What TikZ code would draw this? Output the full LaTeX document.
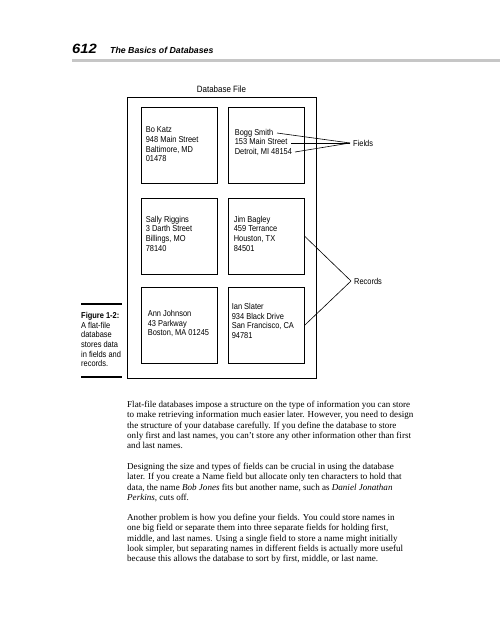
\documentclass[tikz,border=0pt]{standalone}
\usepackage{fontspec}
\setmainfont{Liberation Serif}
\newfontfamily\narrowsf[FakeStretch=0.87]{Liberation Sans}
\newfontfamily\headsf{Liberation Sans}
\newfontfamily\headnum[FakeStretch=1.1]{Liberation Sans}
\usetikzlibrary{calc, positioning}

\begin{document}
\begin{tikzpicture}[x=1bp, y=-1bp,
        recbox/.style={draw, line width=0.8bp, minimum width=76bp, minimum height=76bp, inner sep=0},
        rectext/.style={anchor=north west, inner sep=0, align=left, font=\narrowsf\fontsize{8.6}{9.7}\selectfont},
        lbl/.style={anchor=west, inner xsep=3bp, inner ysep=0, font=\narrowsf\fontsize{8.6}{9.7}\selectfont},
        bodytext/.style={anchor=north west, inner sep=0, align=left, font=\fontsize{9.1}{10.35}\selectfont},
        capline/.style={line width=1.6bp},
        connector/.style={line width=0.6bp}
    ]
    \useasboundingbox[fill=white] (0,0) rectangle (500,627);

    \node[anchor=base west, inner sep=0, font=\headnum\bfseries\itshape\fontsize{13.5}{13.5}\selectfont] (pagenum) at (72,54) {612};
    \node[anchor=base west, inner sep=0, font=\headsf\bfseries\itshape\fontsize{8.8}{8.8}\selectfont] (runhead) at (110,54) {The Basics of Databases};
    \fill[gray!45] (72,59) rectangle (500,62);

    \node[draw, line width=0.8bp, minimum width=189bp, minimum height=281bp, inner sep=0] (dbfile) at (221.5,237.5) {};
    \node[above=4bp of dbfile, inner sep=0, font=\narrowsf\fontsize{9.2}{9.2}\selectfont] (dbtitle) {Database File};

    \node[recbox] (rec1) at (179,145) {};
    \node[recbox] (rec2) at (266,145) {};
    \node[recbox] (rec3) at (179,236) {};
    \node[recbox] (rec4) at (266,236) {};
    \node[recbox] (rec5) at (179,325.5) {};
    \node[recbox] (rec6) at (266,325.5) {};

    \node[rectext] (txt1) at ($(rec1.north west)+(5,20)$) {Bo Katz\\948 Main Street\\Baltimore, MD\\01478};
    \node[rectext] (txt2) at ($(rec2.north west)+(7,22)$) {Bogg Smith\\153 Main Street\\Detroit, MI 48154};
    \node[rectext] (txt3) at ($(rec3.north west)+(5,18)$) {Sally Riggins\\3 Darth Street\\Billings, MO\\78140};
    \node[rectext] (txt4) at ($(rec4.north west)+(6,18)$) {Jim Bagley\\459 Terrance\\Houston, TX\\84501};
    \node[rectext] (txt5) at ($(rec5.north west)+(7,23)$) {Ann Johnson\\43 Parkway\\Boston, MA 01245};
    \node[rectext] (txt6) at ($(rec6.north west)+(4,16)$) {Ian Slater\\934 Black Drive\\San Francisco, CA\\94781};

    \coordinate (fname) at (277,133);
    \coordinate (fstreet) at (291,143);
    \coordinate (fcity) at (295,152);
    \node[lbl] (fields) at (350,143) {Fields};
    \draw[connector] (fname) -- (fields.west);
    \draw[connector] (fstreet) -- (fields.west);
    \draw[connector] (fcity) -- (fields.west);

    \node[lbl] (records) at (351,281) {Records};
    \draw[connector] (rec4.east) -- (records.west);
    \draw[connector] (rec6.east) -- (records.west);

    \draw[capline] (81,304) -- (122,304);
    \draw[capline] (81,377) -- (122,377);
    \node[rectext] (caption) at (81,312) {\textbf{Figure 1-2:}\\A flat-file\\database\\stores data\\in fields and\\records.};

    \node[bodytext] (para1) at (127,401) {Flat-file databases impose a structure on the type of information you can store\\to make retrieving information much easier later. However, you need to design\\the structure of your database carefully. If you define the database to store\\only first and last names, you can't store any other information other than first\\and last names.};
    \node[bodytext] (para2) at (127,463) {Designing the size and types of fields can be crucial in using the database\\later. If you create a Name field but allocate only ten characters to hold that\\data, the name \textit{Bob Jones} fits but another name, such as \textit{Daniel Jonathan}\\\textit{Perkins,} cuts off.};
    \node[bodytext] (para3) at (127,514) {Another problem is how you define your fields. You could store names in\\one big field or separate them into three separate fields for holding first,\\middle, and last names. Using a single field to store a name might initially\\look simpler, but separating names in different fields is actually more useful\\because this allows the database to sort by first, middle, or last name.};
\end{tikzpicture}
\end{document}
